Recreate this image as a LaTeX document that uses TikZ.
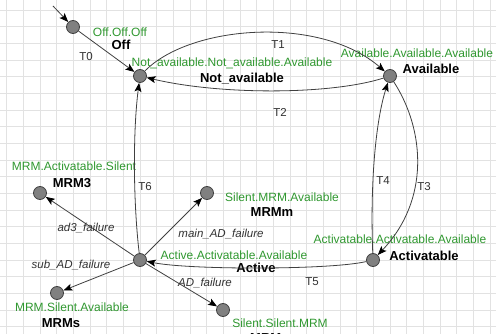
\documentclass[tikz,border=0pt]{standalone}
\usepackage{fontspec}
\setmainfont{Liberation Sans}
\usetikzlibrary{arrows.meta}
\definecolor{gridgray}{RGB}{226,226,226}
\definecolor{stategreen}{RGB}{48,152,48}
\definecolor{edgegray}{RGB}{64,64,64}
\definecolor{statefill}{RGB}{128,128,128}
\definecolor{labelgray}{RGB}{50,50,50}
\tikzset{
  gridline/.style={draw=gridgray, line width=0.9pt},
  state/.style={circle, fill=statefill, draw=edgegray, line width=0.8pt,
    minimum size=13pt, inner sep=0pt},
  code/.style={text=stategreen, font=\fontsize{12}{14}\selectfont, inner sep=0pt},
  title/.style={text=black, font=\fontsize{13}{15}\selectfont\bfseries, inner sep=0pt},
  trans/.style={draw=edgegray, line width=0.8pt,
    -{Stealth[length=9pt, width=7pt, inset=2pt, black]}},
  tname/.style={text=labelgray, font=\fontsize{11.5}{13}\selectfont, inner sep=0pt},
  fname/.style={text=labelgray, font=\fontsize{11.5}{13}\selectfont\itshape, inner sep=0pt}
}
\begin{document}
\begin{tikzpicture}[x=1pt, y=-1pt]
  \useasboundingbox (0,0) rectangle (496,334);
  \clip (0,0) rectangle (496,334);
  \fill[white] (0,0) rectangle (496,334);
  % background grid
  \foreach \i in {0,...,29} {
    \draw[gridline] ({6.667+16.667*\i},0) -- ({6.667+16.667*\i},334);
  }
  \foreach \j in {0,...,19} {
    \draw[gridline] (0,{10+16.667*\j}) -- (496,{10+16.667*\j});
  }

  % states
  \node[state] (off)   at (73,27)   {};
  \node[state] (na)    at (140,76)  {};
  \node[state] (av)    at (390,76)  {};
  \node[state] (acb)   at (373,260) {};
  \node[state] (act)   at (140,260) {};
  \node[state] (mrm3)  at (40,193)  {};
  \node[state] (mrmm)  at (207,193) {};
  \node[state] (mrms)  at (57,293)  {};
  \node[state] (mrmss) at (223,310) {};
  \coordinate (init) at (53,6);

  % state texts
  \node[code]  (offc)   at (120,32)  {Off.Off.Off};
  \node[title] (offt)   at (121,45)  {Off};
  \node[code]  (nac)    at (232,63)  {Not\_available.Not\_available.Available};
  \node[title] (nat)    at (242,79)  {Not\_available};
  \node[code]  (avc)    at (417,53)  {Available.Available.Available};
  \node[title] (avt)    at (431,69)  {Available};
  \node[code]  (acbc)   at (400,239) {Activatable.Activatable.Available};
  \node[title] (acbt)   at (424,256) {Activatable};
  \node[code]  (actc)   at (234,255) {Active.Activatable.Available};
  \node[title] (actt)   at (256,268) {Active};
  \node[code]  (mrm3c)  at (74,166)  {MRM.Activatable.Silent};
  \node[title] (mrm3t)  at (72,183)  {MRM3};
  \node[code]  (mrmmc)  at (282,197) {Silent.MRM.Available};
  \node[title] (mrmmt)  at (272,212) {MRMm};
  \node[code]  (mrmsc)  at (72,307)  {MRM.Silent.Available};
  \node[title] (mrmst)  at (61,323)  {MRMs};
  \node[code]  (mrmssc) at (280,323) {Silent.Silent.MRM};
  \node[title] (mrmsst) at (273,338) {MRMss};

  % transitions
  \draw[trans] (init) -- (off);
  \draw[trans] (off) -- (na);
  \draw[trans] (na) .. controls (190,25) and (320,15) .. (av);
  \draw[trans] (av) .. controls (330,95) and (220,95) .. (na);
  \draw[trans] (av) .. controls (425,130) and (430,200) .. (acb);
  \draw[trans] (acb) .. controls (370,180) and (376,120) .. (av);
  \draw[trans] (acb) .. controls (330,270) and (190,270) .. (act);
  \draw[trans] (act) .. controls (133,200) and (133,130) .. (na);
  \draw[trans] (act) -- (mrm3);
  \draw[trans] (act) -- (mrmm);
  \draw[trans] (act) -- (mrms);
  \draw[trans] (act) -- (mrmss);

  % transition names
  \node[tname] (t0) at (86,57)   {T0};
  \node[tname] (t1) at (278,45)  {T1};
  \node[tname] (t2) at (280,112) {T2};
  \node[tname] (t3) at (424,187) {T3};
  \node[tname] (t4) at (383,181) {T4};
  \node[tname] (t5) at (312,282) {T5};
  \node[tname] (t6) at (145,187) {T6};
  \node[fname] (f1) at (86,228)  {ad3\_failure};
  \node[fname] (f2) at (221,234) {main\_AD\_failure};
  \node[fname] (f3) at (71,265)  {sub\_AD\_failure};
  \node[fname] (f4) at (205,283) {AD\_failure};
\end{tikzpicture}
\end{document}
